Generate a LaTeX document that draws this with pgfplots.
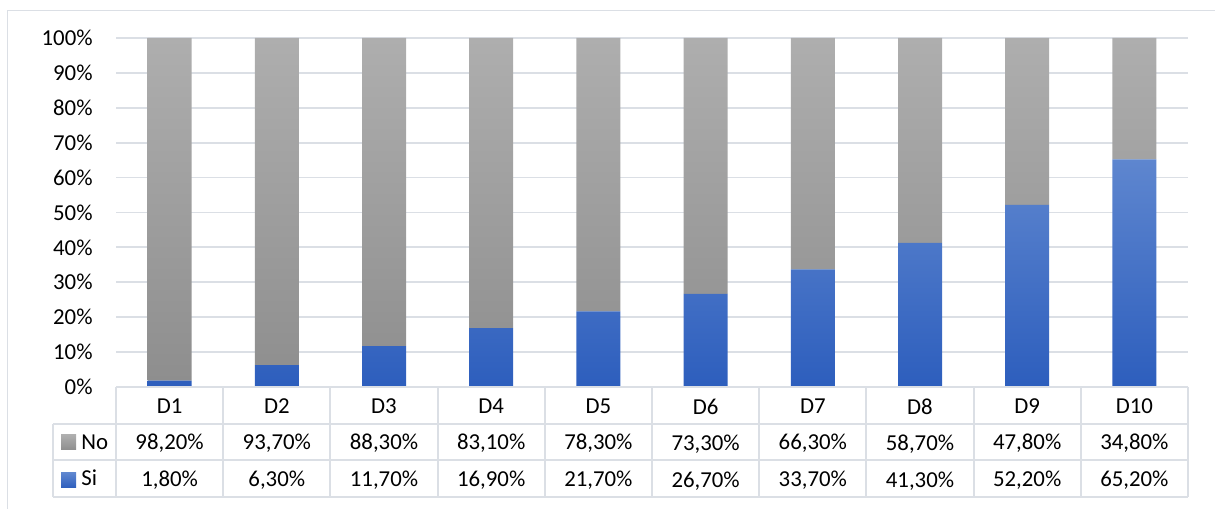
\documentclass[border=0pt]{standalone}
\usepackage{fontspec}
\setmainfont{Carlito}
\usepackage{pgfplots}
\pgfplotsset{compat=1.18}

\definecolor{gridc}{RGB}{219,223,229}
\definecolor{graytop}{RGB}{174,174,174}
\definecolor{graybot}{RGB}{142,142,142}
\definecolor{bluetop}{RGB}{94,134,207}
\definecolor{bluebot}{RGB}{45,94,189}

\begin{document}
\begin{tikzpicture}
\useasboundingbox (0,0) rectangle (607.5bp,254.5bp);
% outer chart frame (only top and left edges show)
\draw[gridc, line width=0.75bp] (3.75bp,0) -- (3.75bp,249.25bp) -- (607.5bp,249.25bp);

\begin{axis}[
    at={(58bp,61bp)}, anchor=south west,
    scale only axis,
    width=536bp, height=174.5bp,
    ybar stacked,
    bar width=22bp,
    xmin=-0.5, xmax=9.5,
    ymin=0, ymax=100,
    ytick={0,10,...,100},
    yticklabel={\pgfmathparse{int(\tick)}\pgfmathresult\%},
    xtick={0,...,9},
    xticklabels={
      {D1\\98,20\%\\1,80\%},
      {D2\\93,70\%\\6,30\%},
      {D3\\88,30\%\\11,70\%},
      {D4\\83,10\%\\16,90\%},
      {D5\\78,30\%\\21,70\%},
      {D6\\73,30\%\\26,70\%},
      {D7\\66,30\%\\33,70\%},
      {D8\\58,70\%\\41,30\%},
      {D9\\47,80\%\\52,20\%},
      {D10\\34,80\%\\65,20\%}},
    ticklabel style={font=\fontsize{11.4bp}{18.25bp}\selectfont, inner sep=0pt},
    xticklabel style={align=center, anchor=north, yshift=-5.65bp},
    yticklabel style={anchor=east, xshift=-11.5bp},
    major tick length=0pt,
    axis line style={draw=none},
    ymajorgrids,
    grid style={gridc, line width=0.9bp},
    clip=false,
]
\addplot[draw=none, top color=bluetop, bottom color=bluebot] coordinates {
    (0,1.8) (1,6.3) (2,11.7) (3,16.9) (4,21.7)
    (5,26.7) (6,33.7) (7,41.3) (8,52.2) (9,65.2)
};
\addplot[draw=none, top color=graytop, bottom color=graybot] coordinates {
    (0,98.2) (1,93.7) (2,88.3) (3,83.1) (4,78.3)
    (5,73.3) (6,66.3) (7,58.7) (8,47.8) (9,34.8)
};
\end{axis}

% data table grid
\begin{scope}[gridc, line width=1bp]
\draw (58bp,61bp) -- (594bp,61bp);
\draw (26.5bp,42.5bp) -- (594bp,42.5bp);
\draw (26.5bp,24.5bp) -- (594bp,24.5bp);
\draw (26.5bp,6bp) -- (594bp,6bp);
\draw (26.5bp,6bp) -- (26.5bp,42.5bp);
\foreach \k in {0,...,10}
  \draw ({58bp+53.6bp*\k},61bp) -- ({58bp+53.6bp*\k},6bp);
\end{scope}

% legend keys inside the data table
\path[top color=graytop, bottom color=graybot] (30.5bp,29.5bp) rectangle (38bp,37bp);
\path[top color=bluetop, bottom color=bluebot] (30.5bp,10.5bp) rectangle (38bp,18bp);
\node[anchor=base west, inner sep=0pt, font=\fontsize{11.4bp}{13bp}\selectfont] at (40.5bp,29.85bp) {No};
\node[anchor=base west, inner sep=0pt, font=\fontsize{11.4bp}{13bp}\selectfont] at (40.5bp,11.6bp) {Si};
\end{tikzpicture}
\end{document}
